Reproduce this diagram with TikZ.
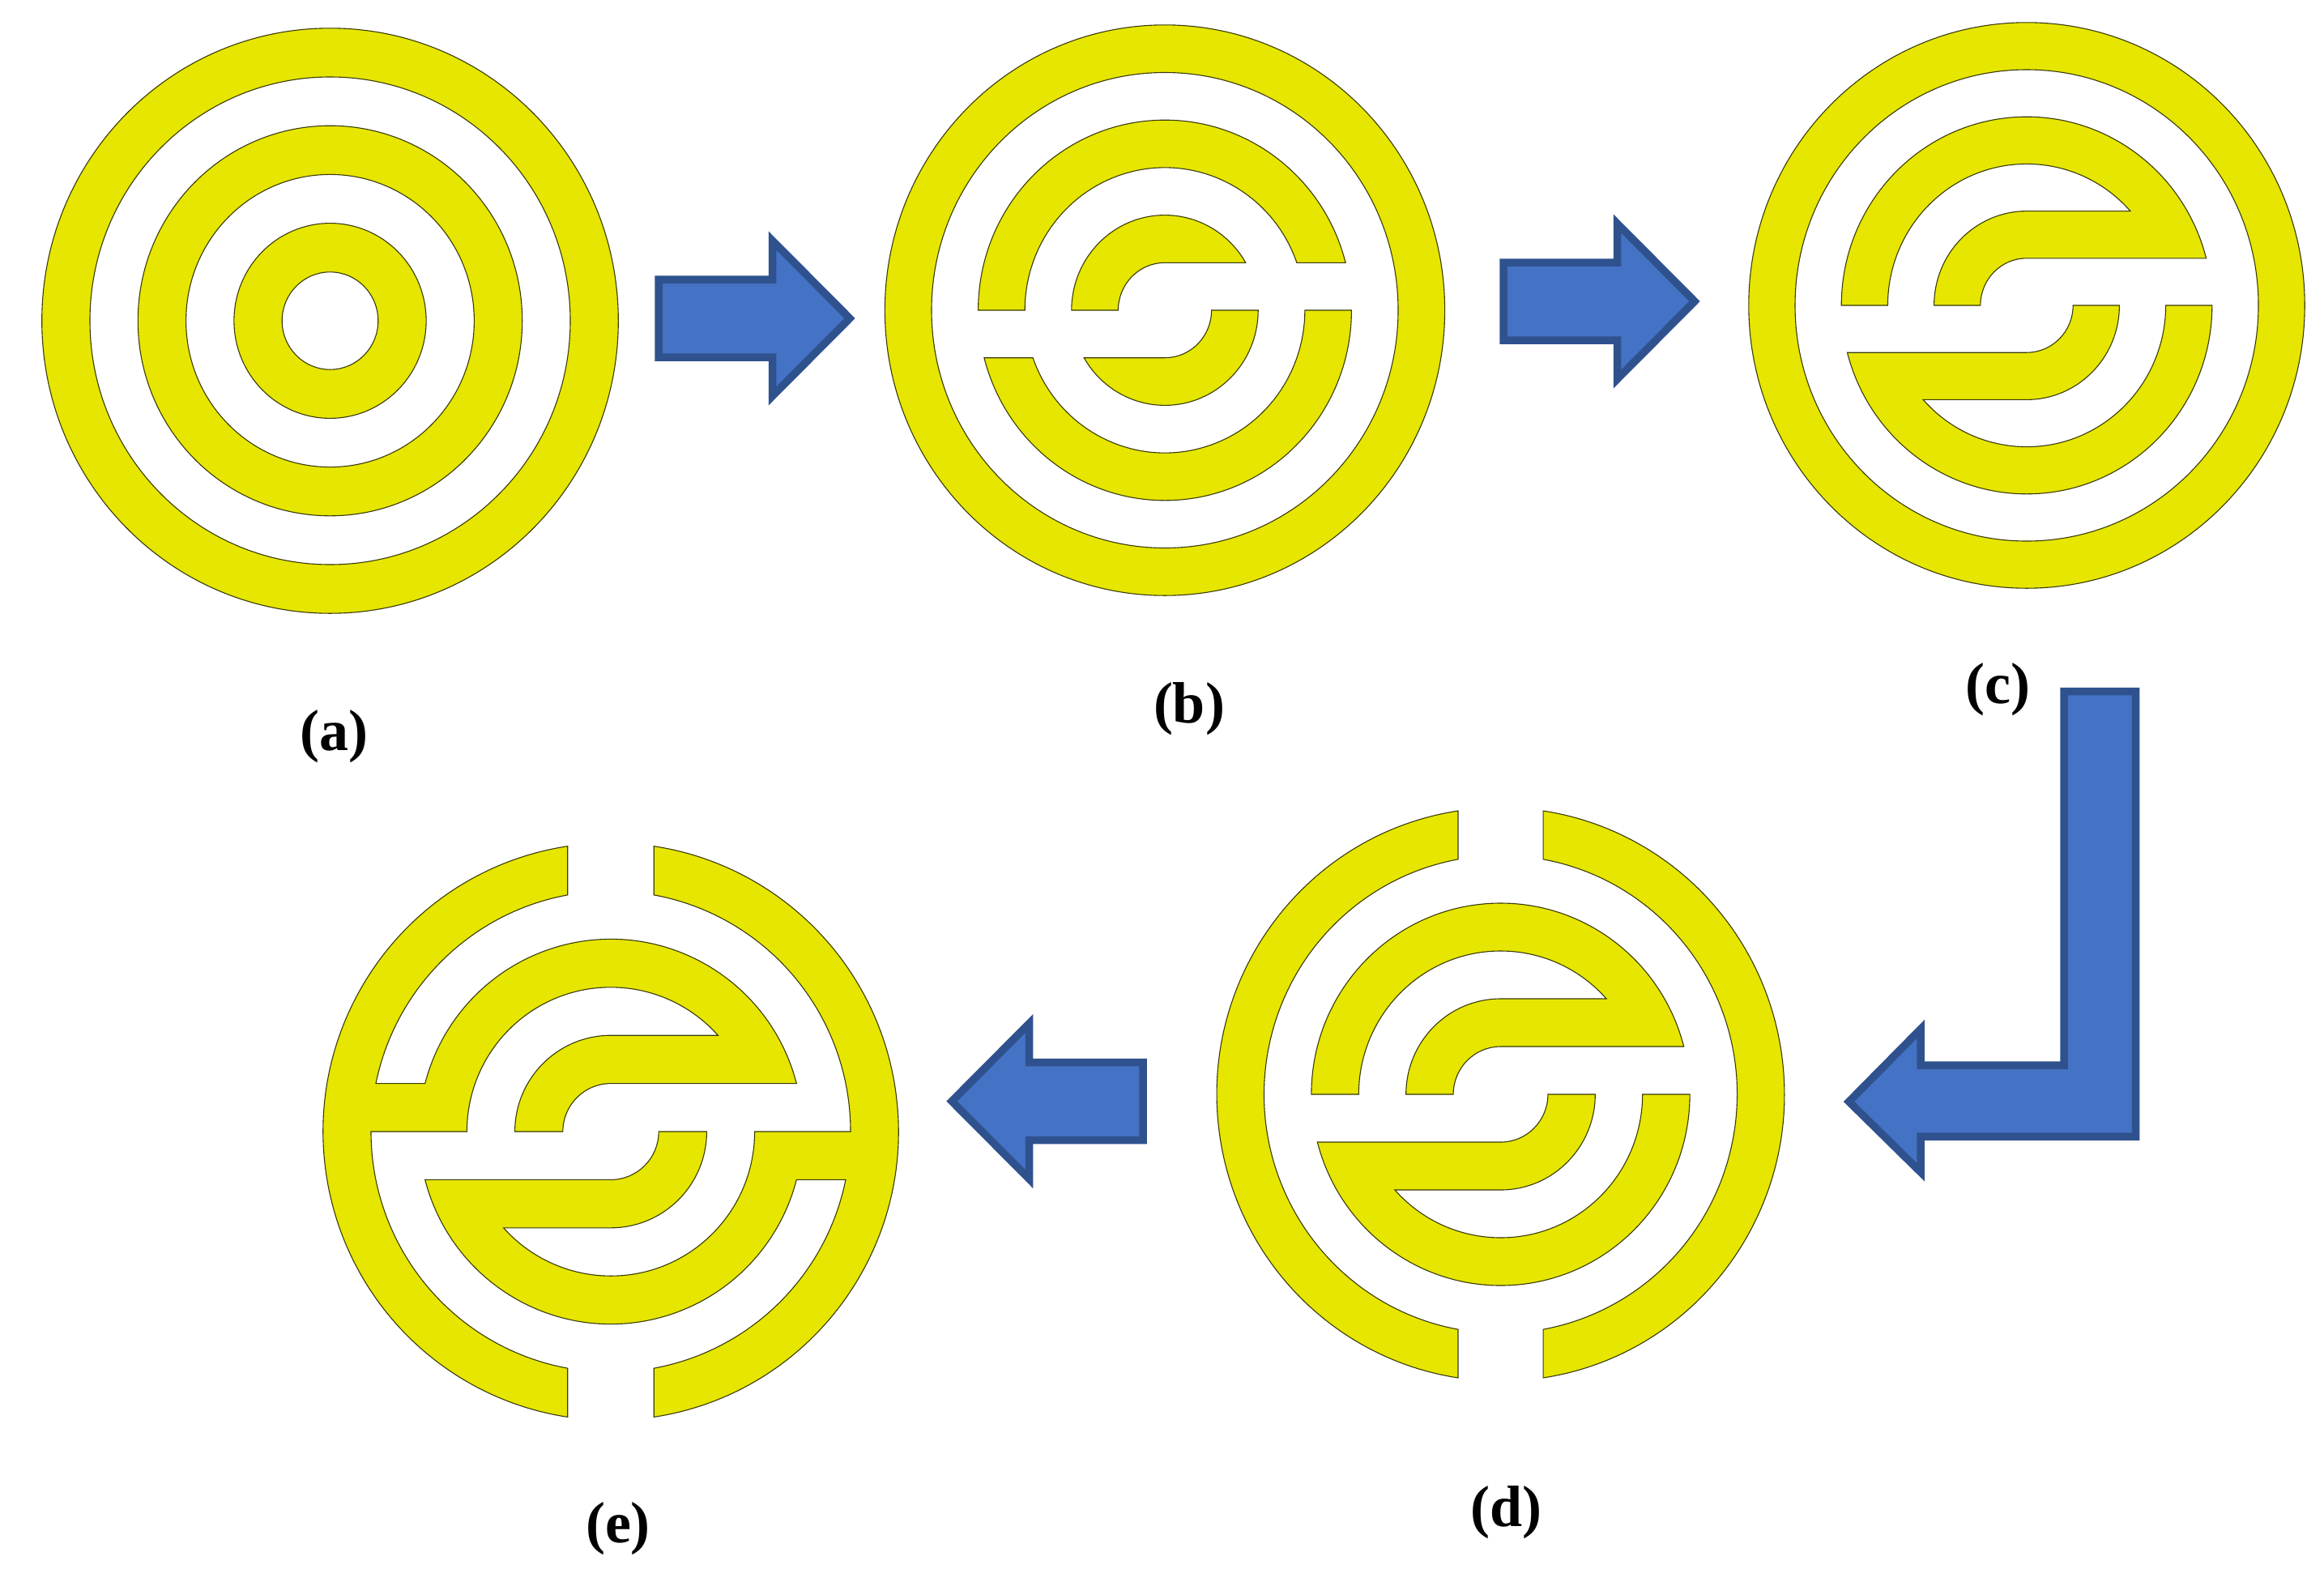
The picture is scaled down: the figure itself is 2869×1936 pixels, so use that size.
\documentclass[tikz,border=0pt]{standalone}
\usepackage{fontspec}
\setmainfont{Liberation Serif}
\definecolor{ringyellow}{HTML}{E6E600}
\definecolor{ringedge}{HTML}{3A3A08}
\definecolor{arrowfill}{HTML}{4472C4}
\definecolor{arrowedge}{HTML}{2F528F}
\newcommand{\ringOuter}{\path[ringpart] (0,0) circle[radius=6] (0,0) circle[radius=5];}
\newcommand{\ringsA}{\path[ringpart] (0,0) circle[radius=6] (0,0) circle[radius=5];
 \path[ringpart] (0,0) circle[radius=4] (0,0) circle[radius=3];
 \path[ringpart] (0,0) circle[radius=2] (0,0) circle[radius=1];}
% split rings (panel b)
\newcommand{\splitHalf}{%
 \path[ringpart] (-4,0) arc[start angle=180,end angle=14.48,radius=4] -- (2.828,1) arc[start angle=19.47,end angle=180,radius=3] -- cycle;
 \path[ringpart] (-2,0) arc[start angle=180,end angle=30,radius=2] -- (0,1) arc[start angle=90,end angle=180,radius=1] -- cycle;}
% joined half (panels c, d)
\newcommand{\joinHalf}{%
 \path[ringpart] (-4,0) arc[start angle=180,end angle=14.48,radius=4] -- (0,1) arc[start angle=90,end angle=180,radius=1] -- (-2,0) arc[start angle=180,end angle=90,radius=2] -- (2.236,2) arc[start angle=41.81,end angle=180,radius=3] -- cycle;}
% outer ring half with gaps (panel d)
\newcommand{\gapHalf}{%
 \path[ringpart] (98.63:6) arc[start angle=98.63,end angle=261.37,radius=6] -- (259.63:5) arc[start angle=259.63,end angle=100.37,radius=5] -- cycle;}
% everything joined (panel e)
\newcommand{\fullHalf}{%
 \path[ringpart] (98.63:6) arc[start angle=98.63,end angle=261.37,radius=6] -- (259.63:5) arc[start angle=259.63,end angle=180,radius=5] -- (-3,0) arc[start angle=180,end angle=41.81,radius=3] -- (0,2) arc[start angle=90,end angle=180,radius=2] -- (-1,0) arc[start angle=180,end angle=90,radius=1] -- (3.873,1) arc[start angle=14.48,end angle=165.52,radius=4] -- (168.46:5) arc[start angle=168.46,end angle=100.37,radius=5] -- cycle;}
\newcommand{\twice}[1]{#1\begin{scope}[rotate=180]#1\end{scope}}
\tikzset{
 ringpart/.style={fill=ringyellow,draw=ringedge,line width=1.1pt,even odd rule,line join=miter},
 blockarrow/.style={fill=arrowfill,draw=arrowedge,line width=9.5pt,line join=miter,miter limit=10},
 panellabel/.style={font=\fontsize{72}{80}\selectfont\bfseries,text=black,inner sep=0pt,anchor=center}
}
\begin{document}
\begin{tikzpicture}[x=1pt,y=1pt]
\useasboundingbox[fill=white] (0,0) rectangle (2869,-1936);
% panel a
\begin{scope}[shift={(407.5,-396)},x=59.3pt,y=60.2pt]\ringsA\end{scope}
% panel b
\begin{scope}[shift={(1438,-383)},x=57.6pt,y=58.7pt]\ringOuter\twice{\splitHalf}\end{scope}
% panel c
\begin{scope}[shift={(2502,-377)},x=57.2pt,y=58.2pt]\ringOuter\twice{\joinHalf}\end{scope}
% panel d
\begin{scope}[shift={(1852.5,-1351)},x=58.4pt,y=59pt]\twice{\joinHalf}\twice{\gapHalf}\end{scope}
% panel e
\begin{scope}[shift={(754,-1397)},x=59.2pt,y=59.4pt]\twice{\fullHalf}\end{scope}
% arrows
\path[blockarrow] (813,-345) -- (953.5,-345) -- (953.5,-297) -- (1049,-393) -- (953.5,-489) -- (953.5,-441) -- (813,-441) -- cycle;
\path[blockarrow] (1856,-324) -- (1996.5,-324) -- (1996.5,-276) -- (2092,-372) -- (1996.5,-468) -- (1996.5,-420) -- (1856,-420) -- cycle;
\path[blockarrow] (2548,-853.7) -- (2636.5,-853.7) -- (2636.5,-1403) -- (2371,-1403) -- (2371,-1447) -- (2282.5,-1360) -- (2371,-1270.5) -- (2371,-1315) -- (2548,-1315) -- cycle;
\path[blockarrow] (1411,-1311.5) -- (1270.5,-1311.5) -- (1270.5,-1263.5) -- (1175,-1359.5) -- (1270.5,-1455.5) -- (1270.5,-1407.5) -- (1411,-1407.5) -- cycle;
% labels
\node[panellabel] (la) at (412,-909) {(a)};
\node[panellabel] (lb) at (1468,-875) {(b)};
\node[panellabel] (lc) at (2466,-851) {(c)};
\node[panellabel] (ld) at (1859,-1867) {(d)};
\node[panellabel] (le) at (763,-1887) {(e)};
\end{tikzpicture}
\end{document}
